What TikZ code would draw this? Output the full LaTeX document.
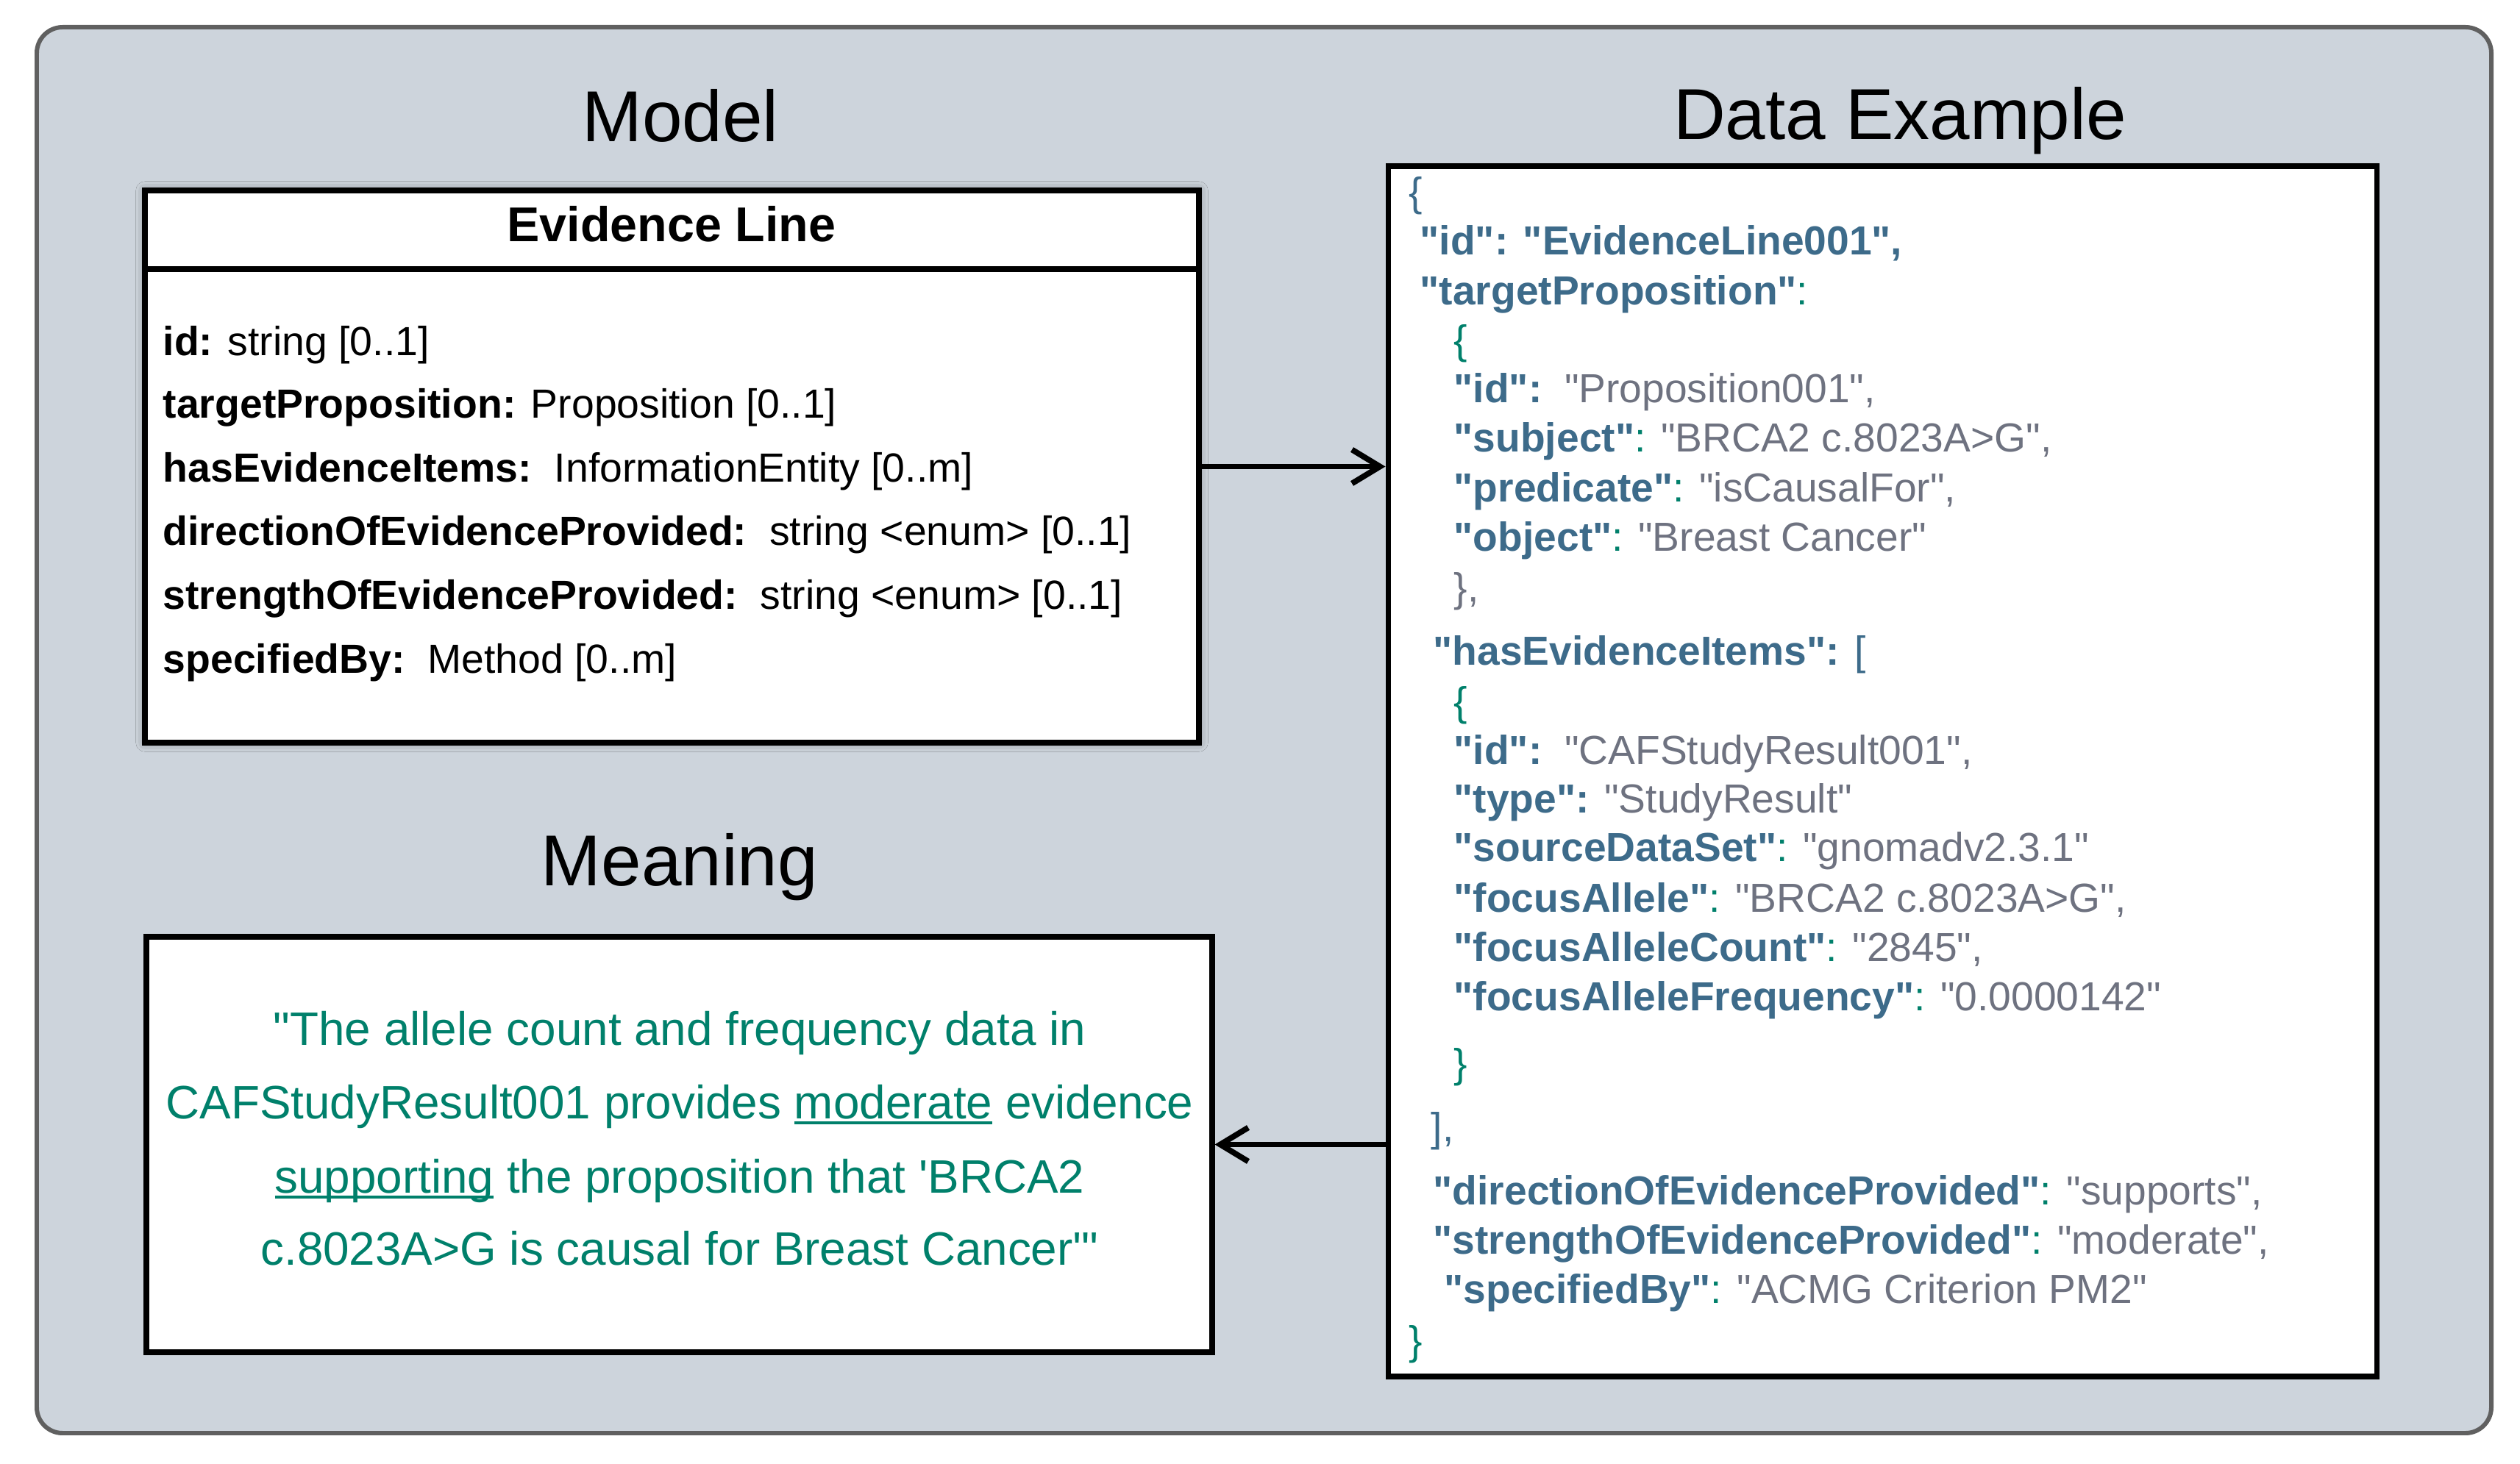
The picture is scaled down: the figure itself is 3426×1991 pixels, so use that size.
\documentclass[tikz,border=0pt]{standalone}
\usepackage{fontspec}
\usepackage{xcolor}
\usepackage{tikz}
\usetikzlibrary{arrows.meta,positioning,shadows.blur}
\newfontfamily\arial{Liberation Sans}
\definecolor{panelbg}{RGB}{205,212,220}
\definecolor{panelrim}{RGB}{96,96,96}
\definecolor{keyblue}{RGB}{61,107,138}
\definecolor{sepgreen}{RGB}{0,128,107}
\definecolor{valgray}{RGB}{110,114,128}
\newcommand\jkey[1]{\textbf{\color{keyblue}#1}}
\newcommand\jcol[1]{{\color{sepgreen}#1}}
\newcommand\jval[1]{{\color{valgray}#1}}
\newcommand\undl[1]{\setbox0\hbox{#1}\rlap{\rule[-0.13em]{\wd0}{0.065em}}\box0\relax}
\tikzset{%
	panel/.style   = {draw=panelrim, line width=1.7pt, fill=panelbg, rounded corners=10pt},
	umlbox/.style  = {draw, line width=2pt, fill=white, inner sep=0pt},
	heading/.style = {font=\arial\fontsize{27.9}{33}\selectfont, inner sep=0pt, anchor=base},
	attr/.style    = {font=\arial\fontsize{15.75}{19}\selectfont, inner sep=0pt, anchor=base west},
	json/.style    = {font=\arial\fontsize{15.7}{19}\selectfont, inner sep=0pt, anchor=base west},
	meaning/.style = {font=\arial\fontsize{18.15}{22}\selectfont, text=sepgreen, inner sep=0pt, anchor=base},
	conn/.style    = {line width=2.2pt, -{Straight Barb[length=3.8mm,width=4.6mm]}},
}
\begin{document}
\begin{tikzpicture}[x=0.1mm,y=-0.1mm]
	\useasboundingbox (0,0) rectangle (3426,1991);
	\draw[panel] (50,37) rectangle (3387,1949);
	
	% titles
	\node[heading] (modeltitle) at (925,193) {Model};
	\node[heading] (datatitle) at (2583,190) {Data Example};
	\node[heading] (meaningtitle) at (924,1204) {Meaning};
	
	% model box
	\node[umlbox, minimum width=143.3mm, minimum height=75.1mm,
		blur shadow={shadow xshift=0pt, shadow yshift=0pt, shadow blur radius=3.5pt, shadow opacity=40}]
		(modelbox) at (913.5,634.5) {};
	\coordinate (hdr) at (0,366);
	\draw[line width=2pt] (modelbox.west |- hdr) -- (modelbox.east |- hdr);
	\node[font=\arial\bfseries\fontsize{18.9}{22}\selectfont, inner sep=0pt, anchor=base] (classname) at (913,329) {Evidence Line};
	\node[attr] (a1) at (221,484) {\textbf{id:} string [0..1]};
	\node[attr] (a2) at (221,569) {\textbf{targetProposition:} Proposition [0..1]};
	\node[attr] (a3) at (221,656) {\textbf{hasEvidenceItems:}\ \ InformationEntity [0..m]};
	\node[attr] (a4) at (221,742) {\textbf{directionOfEvidenceProvided:}\ \ string <enum> [0..1]};
	\node[attr] (a5) at (221,829) {\textbf{strengthOfEvidenceProvided:}\ \ string <enum> [0..1]};
	\node[attr] (a6) at (221,916) {\textbf{specifiedBy:}\ \ Method [0..m]};
	
	% meaning box
	\node[umlbox, minimum width=144.9mm, minimum height=56.5mm] (meaningbox) at (923.5,1556.5) {};
	\node[meaning] (m1) at (924,1421) {"The allele count and frequency data in};
	\node[meaning] (m2) at (924,1521) {CAFStudyResult001 provides \undl{moderate} evidence};
	\node[meaning] (m3) at (924,1622) {\undl{supporting} the proposition that 'BRCA2};
	\node[meaning] (m4) at (924,1720) {c.8023A>G is causal for Breast Cancer'"};
	
	% data example box
	\node[umlbox, minimum width=134.4mm, minimum height=164.6mm] (databox) at (2559,1049) {};
	\node[json] (j1) at (1915,281) {\color{keyblue}\{};
	\node[json] (j2) at (1930,347) {\jkey{"id": "EvidenceLine001",}};
	\node[json] (j3) at (1930,415) {\jkey{"targetProposition"}\jcol{:}};
	\node[json] (j4) at (1976,482) {\jcol{\{}};
	\node[json] (j5) at (1976,548) {\jkey{"id":}\ \ \jval{"Proposition001",}};
	\node[json] (j6) at (1976,615) {\jkey{"subject"}\jcol{:} \jval{"BRCA2 c.8023A>G",}};
	\node[json] (j7) at (1976,683) {\jkey{"predicate"}\jcol{:} \jval{"isCausalFor",}};
	\node[json] (j8) at (1976,750) {\jkey{"object"}\jcol{:} \jval{"Breast Cancer"}};
	\node[json] (j9) at (1976,819) {\jval{\},}};
	\node[json] (j10) at (1948,905) {\jkey{"hasEvidenceItems":} {\color{keyblue}[}};
	\node[json] (j11) at (1976,973) {\jcol{\{}};
	\node[json] (j12) at (1976,1040) {\jkey{"id":}\ \ \jval{"CAFStudyResult001",}};
	\node[json] (j13) at (1976,1105) {\jkey{"type":} \jval{"StudyResult"}};
	\node[json] (j14) at (1976,1172) {\jkey{"sourceDataSet"}\jcol{:} \jval{"gnomadv2.3.1"}};
	\node[json] (j15) at (1976,1240) {\jkey{"focusAllele"}\jcol{:} \jval{"BRCA2 c.8023A>G",}};
	\node[json] (j16) at (1976,1307) {\jkey{"focusAlleleCount"}\jcol{:} \jval{"2845",}};
	\node[json] (j17) at (1976,1374) {\jkey{"focusAlleleFrequency"}\jcol{:} \jval{"0.0000142"}};
	\node[json] (j18) at (1976,1465) {\jcol{\}}};
	\node[json] (j19) at (1945,1552) {\color{keyblue}],};
	\node[json] (j20) at (1948,1638) {\jkey{"directionOfEvidenceProvided"}\jcol{:} \jval{"supports",}};
	\node[json] (j21) at (1948,1705) {\jkey{"strengthOfEvidenceProvided"}\jcol{:} \jval{"moderate",}};
	\node[json] (j22) at (1963,1772) {\jkey{"specifiedBy"}\jcol{:} \jval{"ACMG Criterion PM2"}};
	\node[json] (j23) at (1915,1842) {\jcol{\}}};
	
	% connectors
	\draw[conn] (modelbox.east) -- (modelbox.east -| databox.west);
	\draw[conn] (meaningbox.east -| databox.west) -- (meaningbox.east);
\end{tikzpicture}
\end{document}
